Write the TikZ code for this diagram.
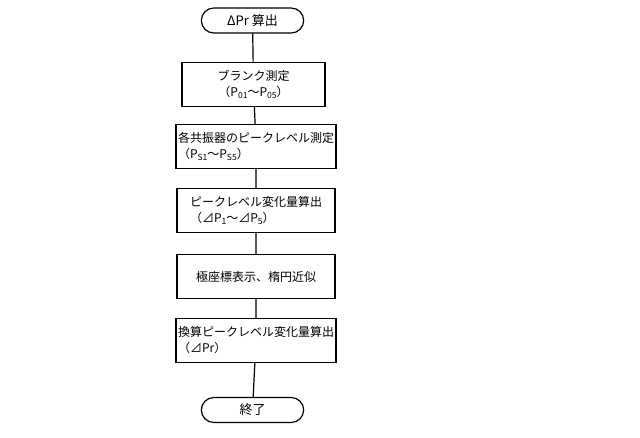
\documentclass[tikz,border=0pt]{standalone}
\usepackage{fontspec}
\setmainfont{Noto Sans CJK JP}
\usetikzlibrary{shapes.misc}
\newcommand{\sub}[1]{\raisebox{-0.3ex}{\fontsize{8.5}{10}\selectfont #1}}
\begin{document}
\begin{tikzpicture}[x=1pt,y=-1pt]
    \tikzstyle{stepbox}=[draw,rectangle,line width=1.2pt,minimum height=44pt,inner sep=2pt,font=\fontsize{12}{16}\selectfont]
    \tikzstyle{term}=[draw,rounded rectangle,line width=1.2pt,minimum width=109pt,minimum height=25pt,font=\fontsize{13}{16}\selectfont]
    \useasboundingbox (0,0) rectangle (640,438);

    \node[term] (start) at (252.5,20.5) {ΔPr 算出};
    \node[stepbox,minimum width=143pt,align=center] (blank) at (253.5,84.5) {ブランク測定\\（P\sub{01}〜P\sub{05}）};
    \node[stepbox,minimum width=158pt,align=left] (peak) at (256,146.5) {各共振器のピークレベル測定\\（P\sub{S1}〜P\sub{S5}）};
    \node[stepbox,minimum width=158pt,align=left] (delta) at (256,210.5) {ピークレベル変化量算出\\（⊿P\sub{1}〜⊿P\sub{5}）};
    \node[stepbox,minimum width=158pt] (polar) at (256,276.5) {極座標表示、楕円近似};
    \node[stepbox,minimum width=158pt,align=left] (conv) at (256,340.5) {換算ピークレベル変化量算出\\（⊿Pr）};
    \node[term] (stop) at (252.5,410) {終了};

    \draw[line width=1.2pt] (start) -- (blank) -- (peak) -- (delta) -- (polar) -- (conv) -- (stop);
\end{tikzpicture}
\end{document}
